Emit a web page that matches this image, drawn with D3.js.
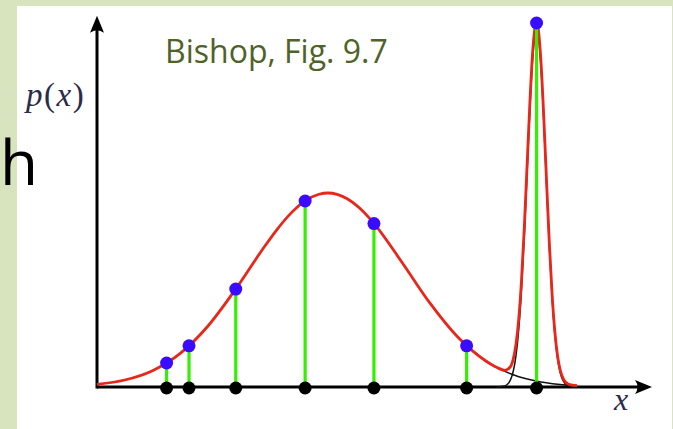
<!DOCTYPE html>
<html>
<head>
<meta charset="utf-8">
<title>Bishop Fig. 9.7</title>
<script src="https://cdn.jsdelivr.net/npm/d3@7"></script>
<style>
  body { margin: 0; background: #d7e4bd; overflow: hidden; }
</style>
</head>
<body>
<div id="chart"></div>
<script>
// mixture density p(x) (x: 0..10 along the axis, spike top = 1)
const curveX = [0, 0.5, 1, 1.5, 2, 2.5, 3, 3.25, 3.5, 3.75, 4, 4.16, 4.5, 4.75, 5, 5.5, 6, 6.5, 7,
    7.2, 7.35, 7.45, 7.5, 7.55, 7.6, 7.65, 7.7, 7.75, 7.8, 7.85, 7.9, 7.92, 7.95, 8.0, 8.05, 8.1,
    8.15, 8.2, 8.25, 8.3, 8.35, 8.4, 8.45, 8.5, 8.65];
const curveY = [0.0073, 0.0192, 0.0448, 0.0923, 0.1676, 0.2692, 0.3818, 0.434, 0.4784, 0.5113,
    0.5296, 0.533, 0.5179, 0.4889, 0.4474, 0.3414, 0.2302, 0.1371, 0.0721, 0.054, 0.0459, 0.056,
    0.0767, 0.118, 0.1887, 0.2966, 0.441, 0.6115, 0.7824, 0.9204, 0.9936, 1.0, 0.9836, 0.8923,
    0.7419, 0.5656, 0.3958, 0.2547, 0.1514, 0.0839, 0.0441, 0.0228, 0.0124, 0.0076, 0.0036];

// the two components, thin black (only show where they leave the red curve)
const broadX = [6.5, 7, 7.5, 8, 8.5];
const broadY = [0.1371, 0.0721, 0.0335, 0.0138, 0.005];
const narrowX = [7.2, 7.35, 7.45, 7.5, 7.55, 7.6, 7.65, 7.7, 7.75, 7.8, 7.85, 7.9, 7.92, 7.95,
    8.0, 8.05, 8.1, 8.15, 8.2, 8.25, 8.3, 8.35, 8.4, 8.45, 8.5, 8.6];
const narrowY = [0.0001, 0.0031, 0.0196, 0.0432, 0.0871, 0.1604, 0.2706, 0.4172, 0.5897, 0.7625,
    0.9022, 0.977, 0.984, 0.9685, 0.8785, 0.7294, 0.5543, 0.3855, 0.2454, 0.143, 0.0763, 0.0372,
    0.0166, 0.0068, 0.0026, 0.0003];

// the data points
const pointX = [1.254, 1.658, 2.5, 3.75, 4.99, 6.66, 7.92];
const pointY = [0.066, 0.113, 0.269, 0.511, 0.449, 0.113, 1.0];

const width = 673, height = 429;

const svg = d3.select("#chart").append("svg")
    .attr("width", width)
    .attr("height", height);

// slide background: green frame, white panel
svg.append("rect")
    .attr("width", width).attr("height", height)
    .attr("fill", "#d7e4bd");
svg.append("rect")
    .attr("x", 17).attr("y", 6)
    .attr("width", 655).attr("height", height - 6)
    .attr("fill", "#ffffff");

const x = d3.scaleLinear().domain([0, 10]).range([97, 652]);
const y = d3.scaleLinear().domain([0, 1]).range([387, 23]);

// axes with arrow heads
svg.append("line")
    .attr("x1", x(0)).attr("x2", x(10) - 8)
    .attr("y1", y(0)).attr("y2", y(0))
    .attr("stroke", "#000").attr("stroke-width", 3);
svg.append("line")
    .attr("x1", x(0)).attr("x2", x(0))
    .attr("y1", y(0) + 1.5).attr("y2", y(1.02) + 8)
    .attr("stroke", "#000").attr("stroke-width", 3);

const xt = x(10), yt = y(0);
svg.append("path")
    .attr("d", `M${xt},${yt} L${xt - 17},${yt - 7} Q${xt - 12},${yt} ${xt - 17},${yt + 7} Z`)
    .attr("fill", "#000");
const ax = x(0), ay = y(1.02);
svg.append("path")
    .attr("d", `M${ax},${ay} L${ax - 7},${ay + 17} Q${ax},${ay + 12} ${ax + 7},${ay + 17} Z`)
    .attr("fill", "#000");

const line = d3.line()
    .x(function(d) { return x(d[0]); })
    .y(function(d) { return y(d[1]); })
    .curve(d3.curveMonotoneX);

// components
svg.append("path")
    .datum(d3.zip(broadX, broadY))
    .attr("d", line)
    .attr("fill", "none").attr("stroke", "#111").attr("stroke-width", 1.5);
svg.append("path")
    .datum(d3.zip(narrowX, narrowY))
    .attr("d", line)
    .attr("fill", "none").attr("stroke", "#111").attr("stroke-width", 1.5);

// mixture
svg.append("path")
    .datum(d3.zip(curveX, curveY))
    .attr("d", line)
    .attr("fill", "none").attr("stroke", "#e8261a").attr("stroke-width", 2.8)
    .attr("stroke-linejoin", "round");

const pts = d3.zip(pointX, pointY);

svg.selectAll(".stem").data(pts).enter()
    .append("line")
    .attr("class", "stem")
    .attr("x1", function(d) { return x(d[0]); })
    .attr("x2", function(d) { return x(d[0]); })
    .attr("y1", y(0))
    .attr("y2", function(d) { return y(d[1]); })
    .attr("stroke", "#33f000").attr("stroke-width", 3.2);

svg.selectAll(".base").data(pts).enter()
    .append("circle")
    .attr("class", "base")
    .attr("cx", function(d) { return x(d[0]); })
    .attr("cy", y(0) + 1)
    .attr("r", 6.5)
    .attr("fill", "#000");

svg.selectAll(".pt").data(pts).enter()
    .append("circle")
    .attr("class", "pt")
    .attr("cx", function(d) { return x(d[0]); })
    .attr("cy", function(d) { return y(d[1]); })
    .attr("r", 6.5)
    .attr("fill", "#3a0cff");

// labels
const lab = svg.append("text")
    .attr("x", 26).attr("y", 106)
    .style("font-family", "Liberation Serif")
    .style("font-size", "33px")
    .style("letter-spacing", "1.5px")
    .style("fill", "#2b2b4a");
lab.append("tspan").style("font-style", "italic").text("p");
lab.append("tspan").text("(");
lab.append("tspan").style("font-style", "italic").text("x");
lab.append("tspan").text(")");

svg.append("text")
    .attr("x", 614).attr("y", 410)
    .style("font-family", "Liberation Serif")
    .style("font-style", "italic")
    .style("font-size", "32px")
    .style("fill", "#2b2b4a")
    .text("x");

svg.append("text")
    .attr("x", 165).attr("y", 63)
    .style("font-family", "Open Sans")
    .style("font-size", "32px")
    .style("fill", "#4f6228")
    .text("Bishop, Fig. 9.7");

svg.append("text")
    .attr("x", 0).attr("y", 185)
    .style("font-family", "Open Sans")
    .style("font-size", "62px")
    .style("fill", "#000")
    .text("h");
</script>
</body>
</html>
